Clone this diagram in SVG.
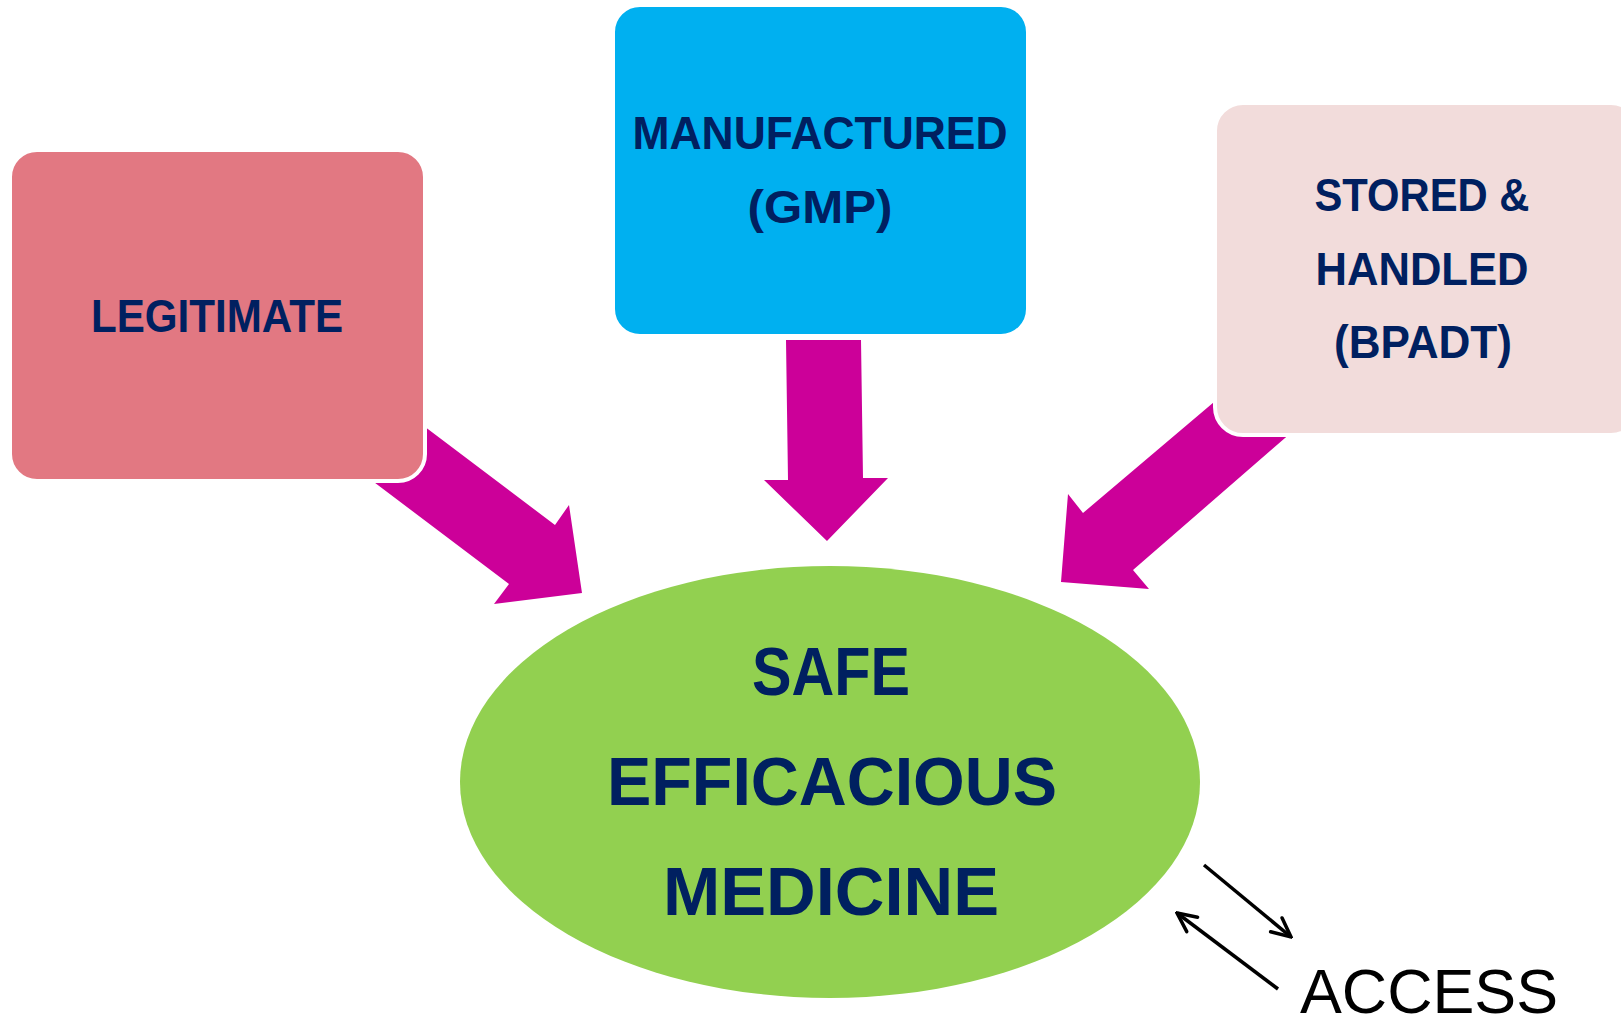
<svg xmlns="http://www.w3.org/2000/svg" width="1621" height="1018" viewBox="0 0 1621 1018">
<style>
.box{stroke:#ffffff;stroke-width:4}
.lbl{font-family:"Liberation Sans",Arial,sans-serif;font-weight:bold;fill:#002060;text-anchor:middle}
.arr{fill:#CC0099}
.thin{stroke:#000;stroke-width:3.5;fill:none}
</style>
<defs>
<marker id="open" markerUnits="userSpaceOnUse" viewBox="0 0 24 24" refX="22" refY="12" markerWidth="24" markerHeight="24" orient="auto">
<path d="M3,3 L22,12 L3,21" fill="none" stroke="#000" stroke-width="3.5" stroke-linecap="round" stroke-linejoin="miter"/>
</marker>
</defs>
<rect width="1621" height="1018" fill="#ffffff"/>
<g id="connectors">
<polygon class="arr" points="400,408 555,525 569,505 582,593 494,604 509,584 350,464"/>
<polygon class="arr" points="786,340 861,340 863,478 888,478 827,541 764,480 788,480"/>
<polygon class="arr" points="1240,380 1083,513 1068,494 1061,582 1149,589 1133,570 1300,425"/>
<line class="thin" x1="1204" y1="865" x2="1291" y2="937" marker-end="url(#open)"/>
<line class="thin" x1="1278" y1="989" x2="1177" y2="913" marker-end="url(#open)"/>
</g>
<g id="legitimate">
<rect class="box" x="10" y="150" width="415" height="331" rx="27" fill="#E27882"/>
<text class="lbl" x="217" y="332" font-size="47" textLength="252" lengthAdjust="spacingAndGlyphs">LEGITIMATE</text>
</g>
<g id="manufactured">
<rect class="box" x="613" y="5" width="415" height="331" rx="27" fill="#00B0F0"/>
<text class="lbl" x="820" y="149" font-size="46" textLength="375" lengthAdjust="spacingAndGlyphs">MANUFACTURED</text>
<text class="lbl" x="820" y="223" font-size="46" textLength="145" lengthAdjust="spacingAndGlyphs">(GMP)</text>
</g>
<g id="stored">
<rect class="box" x="1215" y="103" width="424" height="332" rx="28" fill="#F2DCDB"/>
<text class="lbl" x="1422" y="211" font-size="46" textLength="215" lengthAdjust="spacingAndGlyphs">STORED &amp;</text>
<text class="lbl" x="1422" y="285" font-size="46" textLength="213" lengthAdjust="spacingAndGlyphs">HANDLED</text>
<text class="lbl" x="1423" y="358" font-size="46" textLength="178" lengthAdjust="spacingAndGlyphs">(BPADT)</text>
</g>
<g id="medicine">
<ellipse cx="830" cy="782" rx="370" ry="216" fill="#92D050"/>
<text class="lbl" x="831" y="695" font-size="68" textLength="158" lengthAdjust="spacingAndGlyphs">SAFE</text>
<text class="lbl" x="832" y="805" font-size="68" textLength="450" lengthAdjust="spacingAndGlyphs">EFFICACIOUS</text>
<text class="lbl" x="831" y="915" font-size="68" textLength="336" lengthAdjust="spacingAndGlyphs">MEDICINE</text>
</g>
<g id="access">
<text x="1300" y="1013" font-family="Liberation Sans, Arial, sans-serif" font-size="63" fill="#000" textLength="258" lengthAdjust="spacingAndGlyphs">ACCESS</text>
</g>
</svg>
